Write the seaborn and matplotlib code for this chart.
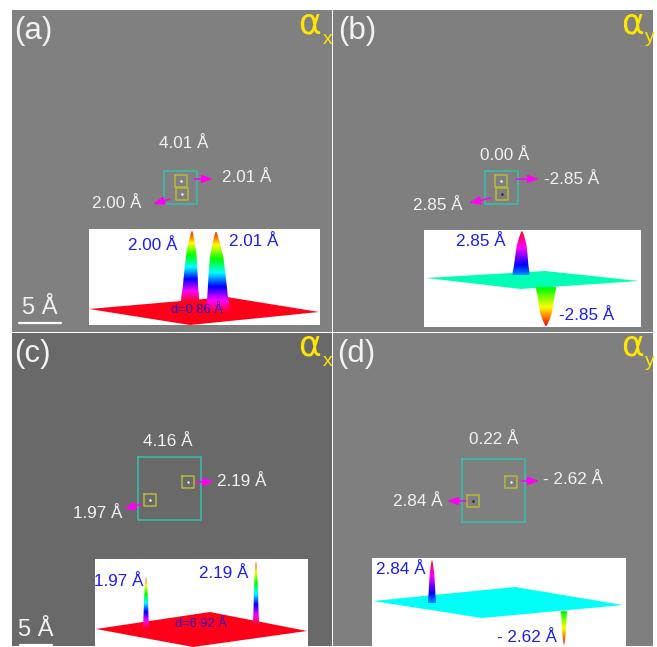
#!/usr/bin/env python3
import numpy as np
import seaborn as sns
import matplotlib
matplotlib.use("Agg")
import matplotlib.pyplot as plt
from matplotlib.patches import Polygon, Rectangle

# values
panel_names = ["(a)", "(b)", "(c)", "(d)"]
panel_alpha = ["x", "y", "x", "y"]
total_labels = ["4.01 Å", "0.00 Å", "4.16 Å", "0.22 Å"]
right_labels = ["2.01 Å", "-2.85 Å", "2.19 Å", "- 2.62 Å"]
left_labels = ["2.00 Å", "2.85 Å", "1.97 Å", "2.84 Å"]
left_values = [2.00, 2.85, 1.97, 2.84]
right_values = [2.01, -2.85, 2.19, -2.62]
distance_labels = ["d=0.86 Å", None, "d=6.92 Å", None]
scale_bar_length = 5  # Angstrom

# layout in pixels of the 657x647 picture
panel_boxes = [(12, 10, 320, 322), (333, 10, 320, 322), (12, 333, 320, 313), (333, 333, 320, 313)]
panel_gray = ["#808080", "#7f7f7f", "#696969", "#7f7f7f"]
label_xy = [(14, 31), (338, 31), (14, 354), (337, 354)]
alpha_xy = [(298, 24), (621, 24), (298, 346), (621, 346)]
sub_xy = [(323, 39), (645, 38), (323, 361), (645, 361)]
total_xy = [(184, 143), (505, 156), (168, 441), (494, 440)]
right_xy = [(247, 178), (572, 179), (242, 481), (573, 479)]
left_xy = [(117, 204), (438, 205), (98, 514), (418, 501)]
cell_boxes = [(164, 171, 33), (485, 171, 33), (138, 457, 63), (462, 459, 63)]
site_right = [(181, 181), (501, 181), (188, 482), (511, 482)]
site_left = [(182, 194), (502, 194), (150, 500), (473, 501)]
dot_left = ["white", "#222222", "white", "#222222"]
arrow_right = [((194, 179), (213, 179)), ((516, 179), (539, 179)), ((196, 482), (214, 482)), ((521, 481), (539, 481))]
arrow_left = [((170, 199), (153, 204)), ((491, 198), (469, 203)), ((142, 504), (124, 509)), ((466, 501), (447, 501))]

inset_boxes = [(89, 229, 231, 96), (424, 230, 217, 97), (95, 559, 213, 88), (372, 558, 254, 89)]
planes = [
    [(89, 309), (227, 297), (319, 312), (190, 325)],
    [(426, 278), (545, 271), (639, 281), (521, 289)],
    [(96, 629), (210, 612), (307, 631), (193, 647)],
    [(373, 601), (515, 587), (623, 605), (482, 618)],
]
# position of the plane on the colour scale
plane_level = [1.0, 0.46, 1.0, 0.5]
inset_left_xy = [(153, 245), (481, 242), (119, 582), (401, 569)]
inset_right_xy = [(254, 242), (587, 316), (224, 573), (527, 637)]
distance_xy = [(197, 310), None, (201, 624), None]

# x, y of the peak foot, pixels per Angstrom, half width, lean of the tip
peak_left = [(190, 302, 35.5, 9, 2), (521, 275, 15.4, 8.5, 1), (146, 629, 26.4, 3, 0), (432, 603, 15.1, 4, 0)]
peak_right = [(218, 313, 40.3, 12, -2), (546, 287, 13.7, 10, 0), (256, 625, 29.2, 3, 0), (564, 611, 13.0, 3, 0)]
profile_level = [0, 0.08, 0.2, 0.45, 0.68, 0.87, 0.95, 1.0]
profile_width = [1.0, 0.98, 0.86, 0.72, 0.57, 0.3, 0.15, 0.03]

scale_bars = [(19, 323, 8.4), None, (20, 645, 6.4), None]
scale_text_xy = [(40, 308), None, (36, 630), None]

WHITE_TEXT = "#f2f2f2"
BLUE_TEXT = "#1c1cf5"
TEAL = "#35bfae"
OLIVE = "#b8b83c"
MAGENTA = "#ff00f0"
YELLOW = "#ffe600"

sns.set_theme(style="white")
plt.rcParams["font.family"] = ["Liberation Sans", "DejaVu Sans"]
surface_cmap = sns.color_palette("hsv", as_cmap=True)

fig = plt.figure(figsize=(6.57, 6.47), dpi=100)
ax = fig.add_axes([0, 0, 1, 1])
ax.set_axis_off()


def outline(x0, y0, size, color, lw):
    xs = [x0, x0 + size, x0 + size, x0, x0]
    ys = [y0, y0, y0 + size, y0 + size, y0]
    sns.lineplot(x=xs, y=ys, sort=False, estimator=None, color=color, linewidth=lw, legend=False, ax=ax, zorder=3)


def draw_peak(foot, value, plane):
    x, y, px_per_a, half, lean = foot
    length = abs(value) * px_per_a
    sign = 1 if value > 0 else -1
    tip_y = y - sign * length
    # colour runs along the hsv scale from the foot to the end of the scale
    if plane == 1.0:
        start, end = 1.0, 0.0
    elif value > 0:
        start, end = max(plane, 0.58), 1.0
    else:
        start, end = min(plane, 0.36), 0.0
    levels = np.array(profile_level)
    widths = np.array(profile_width) * half
    ys = y - sign * levels * length
    xs_mid = x + lean * levels
    left = np.column_stack([xs_mid - widths, ys])
    right = np.column_stack([xs_mid + widths, ys])[::-1]
    shape = Polygon(np.vstack([left, right]), closed=True, transform=ax.transData, facecolor="none", edgecolor="none")
    ax.add_patch(shape)
    grad = np.linspace(start, end, 256).reshape(-1, 1)
    im = ax.imshow(grad, cmap=surface_cmap, vmin=0, vmax=1, aspect="auto", origin="lower",
                   extent=(x - half - 3, x + half + 3, y, tip_y), zorder=6, interpolation="bilinear")
    im.set_clip_path(shape)


for i in range(4):
    x0, y0, w, h = panel_boxes[i]
    ax.add_patch(Rectangle((x0, y0), w, h, facecolor=panel_gray[i], edgecolor="none", zorder=1))

    ax.text(*label_xy[i], panel_names[i], color=WHITE_TEXT, fontsize=22.5, ha="left", va="center", zorder=8)
    ax.text(*alpha_xy[i], "α", color=YELLOW, fontsize=25, family="DejaVu Sans", ha="left", va="center", zorder=8)
    ax.text(*sub_xy[i], panel_alpha[i], color=YELLOW, fontsize=14, ha="left", va="center", zorder=8)

    ax.text(*total_xy[i], total_labels[i], color=WHITE_TEXT, fontsize=12.3, ha="center", va="center", zorder=8)
    ax.text(*right_xy[i], right_labels[i], color=WHITE_TEXT, fontsize=12.3, ha="center", va="center", zorder=8)
    ax.text(*left_xy[i], left_labels[i], color=WHITE_TEXT, fontsize=12.3, ha="center", va="center", zorder=8)

    # simulation cell and the two selected sites
    cx, cy, cs = cell_boxes[i]
    outline(cx, cy, cs, TEAL, 1.1)
    outline(site_right[i][0] - 6, site_right[i][1] - 6, 12, OLIVE, 1.1)
    outline(site_left[i][0] - 6, site_left[i][1] - 6, 12, OLIVE, 1.1)
    sns.scatterplot(x=[site_right[i][0]], y=[site_right[i][1]], color="white", s=3, linewidth=0, legend=False, ax=ax, zorder=4)
    sns.scatterplot(x=[site_left[i][0]], y=[site_left[i][1]], color=dot_left[i], s=3, linewidth=0, legend=False, ax=ax, zorder=4)

    for start, end in (arrow_right[i], arrow_left[i]):
        ax.annotate("", xy=end, xytext=start, zorder=7,
                    arrowprops=dict(arrowstyle="-|>,head_length=0.55,head_width=0.2", color=MAGENTA, lw=1.1,
                                    shrinkA=0, shrinkB=0))

    # surface inset
    bx, by, bw, bh = inset_boxes[i]
    ax.add_patch(Rectangle((bx, by), bw, bh, facecolor="white", edgecolor="none", zorder=2))
    ax.add_patch(Polygon(planes[i], closed=True, facecolor=surface_cmap(plane_level[i]), edgecolor="none", zorder=5))
    draw_peak(peak_left[i], left_values[i], plane_level[i])
    draw_peak(peak_right[i], right_values[i], plane_level[i])

    ax.text(*inset_left_xy[i], left_labels[i], color=BLUE_TEXT, fontsize=12.3, ha="center", va="center", zorder=8)
    ax.text(*inset_right_xy[i], right_labels[i], color=BLUE_TEXT, fontsize=12.3, ha="center", va="center", zorder=8)
    if distance_labels[i]:
        ax.text(*distance_xy[i], distance_labels[i], color="#2a10d0", fontsize=9.3, ha="center", va="center", zorder=8)

    if scale_bars[i]:
        sx, sy, px_per_a = scale_bars[i]
        sns.lineplot(x=[sx, sx + scale_bar_length * px_per_a], y=[sy, sy], color="white", linewidth=1.6,
                     estimator=None, legend=False, ax=ax, zorder=7)
        ax.text(*scale_text_xy[i], f"{scale_bar_length} Å", color=WHITE_TEXT, fontsize=17, ha="center", va="center", zorder=8)

ax.set_xlim(0, 657)
ax.set_ylim(647, 0)
ax.set_xlabel("")
ax.set_ylabel("")
fig.savefig("out.png", dpi=100, facecolor="white")
